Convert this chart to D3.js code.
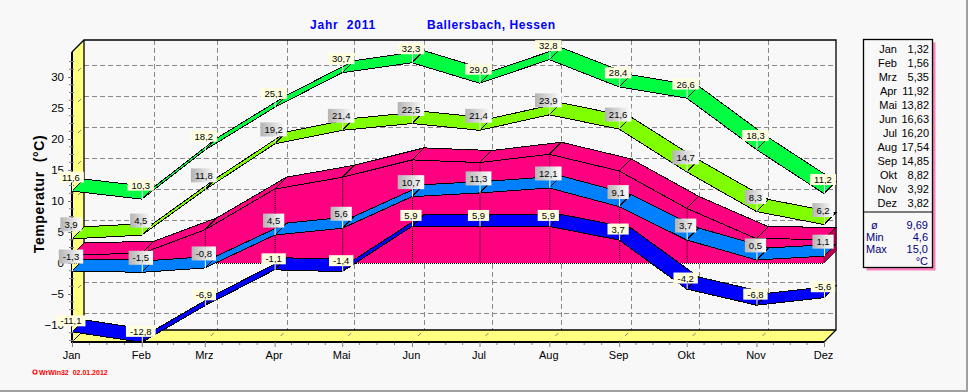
<!DOCTYPE html>
<html>
<head>
<meta charset="utf-8">
<script src="https://cdnjs.cloudflare.com/ajax/libs/d3/7.8.5/d3.min.js"></script>
<style>
  html, body { margin: 0; padding: 0; background: #f8f8f8; overflow: hidden; }
  svg { display: block; font-family: "Liberation Sans", Arial, sans-serif; }
  text { white-space: pre; }
</style>
</head>
<body>
<svg id="chart" width="968" height="392"></svg>
<script>
const months = ["Jan", "Feb", "Mrz", "Apr", "Mai", "Jun", "Jul", "Aug", "Sep", "Okt", "Nov", "Dez"];
const absMax = [11.6, 10.3, 18.2, 25.1, 30.7, 32.3, 29.0, 32.8, 28.4, 26.6, 18.3, 11.2];
const meanMax = [3.9, 4.5, 11.8, 19.2, 21.4, 22.5, 21.4, 23.9, 21.6, 14.7, 8.3, 6.2];
const meanTemp = [1.32, 1.56, 5.35, 11.92, 13.82, 16.63, 16.20, 17.54, 14.85, 8.82, 3.92, 3.82];
const meanMin = [-1.3, -1.5, -0.8, 4.5, 5.6, 10.7, 11.3, 12.1, 9.1, 3.7, 0.5, 1.1];
const absMin = [-11.1, -12.8, -6.9, -1.1, -1.4, 5.9, 5.9, 5.9, 3.7, -4.2, -6.8, -5.6];
const yTicks = [-10, -5, 0, 5, 10, 15, 20, 25, 30];
const summaryLabels = ["ø", "Min", "Max"];
const summaryValues = [9.69, 4.6, 15.0];

const svg = d3.select("#chart");
const depth = 12;
const dates = months.map((m, i) => new Date(Date.UTC(2011, i, 1)));

const x = d3.scaleUtc().domain([dates[0], dates[11]]).range([72, 824]);
const y = d3.scaleLinear().domain([-10, 30]).range([325, 77]);

const left = x.range()[0], right = x.range()[1];
const floorY = 342, topY = 52;
const comma = (v, n) => v.toFixed(n).replace(".", ",");

// gradient for the grey labels
const grad = svg.append("defs").append("linearGradient").attr("id", "greyLabel");
grad.append("stop").attr("offset", "0%").attr("stop-color", "#b4b4b4");
grad.append("stop").attr("offset", "100%").attr("stop-color", "#ffffff");

// side wall and floor
const wall = svg.append("g").attr("shape-rendering", "crispEdges");
wall.append("polygon")
  .attr("points", [[left, topY], [left + depth, topY - depth], [left + depth, floorY - depth], [left, floorY]].join(" "))
  .attr("fill", "#ffff80");
wall.append("polygon")
  .attr("points", [[left, floorY], [left + depth, floorY - depth], [right + depth, floorY - depth], [right, floorY]].join(" "))
  .attr("fill", "#ffff80");

// grid on the back wall
const grid = svg.append("g").attr("stroke", "#888").attr("stroke-dasharray", "5,3").attr("shape-rendering", "crispEdges");
grid.selectAll(".h").data(yTicks).join("line").attr("class", "h")
  .attr("x1", left + depth).attr("x2", right + depth)
  .attr("y1", d => y(d) - depth + 0.5).attr("y2", d => y(d) - depth + 0.5);
grid.selectAll(".v").data(dates.slice(1, 11)).join("line").attr("class", "v")
  .attr("x1", d => x(d) + depth + 0.5).attr("x2", d => x(d) + depth + 0.5)
  .attr("y1", topY - depth).attr("y2", floorY - depth);

// frame
const frame = svg.append("g").attr("fill", "none").attr("stroke", "#000");
frame.append("polyline")
  .attr("points", [[left, topY], [left + depth, topY - depth], [right + depth, topY - depth], [right + depth, floorY - depth], [right, floorY]].join(" "))
  .attr("stroke-width", 1.3);
frame.append("polyline")
  .attr("points", [[left + depth, topY - depth], [left + depth, floorY - depth], [right + depth, floorY - depth]].join(" "))
  .attr("stroke-width", 1.3);
frame.append("line")
  .attr("x1", left).attr("y1", floorY).attr("x2", left + depth).attr("y2", floorY - depth);

// small dashes on wall and floor
const dashes = svg.append("g").attr("stroke", "#808080");
dashes.selectAll(".w").data(yTicks).join("line").attr("class", "w")
  .attr("x1", left + 6).attr("y1", d => y(d) - 6).attr("x2", left + 9).attr("y2", d => y(d) - 9);
dashes.selectAll(".f").data(dates.slice(1, 11)).join("line").attr("class", "f")
  .attr("x1", d => x(d) + 6).attr("y1", floorY - 6).attr("x2", d => x(d) + 9).attr("y2", floorY - 9);

function ribbon(g, values, color) {
  const pts = values.map((v, i) => [x(dates[i]), y(v)]);
  g.selectAll("polygon").data(d3.pairs(pts)).join("polygon")
    .attr("points", ([a, b]) => [a, b, [b[0] + depth, b[1] - depth], [a[0] + depth, a[1] - depth]].join(" "))
    .attr("fill", color)
    .attr("stroke", "#000")
    .attr("stroke-width", 1)
    .attr("shape-rendering", "crispEdges");
}

// back to front
ribbon(svg.append("g"), absMax, "#00ff40");
ribbon(svg.append("g"), meanMax, "#80ff00");

// mean temperature as a solid block from zero
const pink = svg.append("g");
pink.append("path")
  .datum(meanTemp)
  .attr("d", d3.area().x((d, i) => x(dates[i])).y0(y(0)).y1(d => y(d)))
  .attr("fill", "#ff0080");
ribbon(pink.append("g"), meanTemp, "#ff0080");
pink.append("polygon")
  .attr("points", [[right, y(0)], [right, y(meanTemp[11])], [right + depth, y(meanTemp[11]) - depth], [right + depth, y(0) - depth]].join(" "))
  .attr("fill", "#c00050").attr("stroke", "#000").attr("stroke-width", 0.6);
pink.selectAll(".drop").data(meanTemp.slice(1, 11)).join("line").attr("class", "drop")
  .attr("x1", (d, i) => x(dates[i + 1]) + 0.5).attr("x2", (d, i) => x(dates[i + 1]) + 0.5)
  .attr("y1", d => y(d)).attr("y2", y(0))
  .attr("stroke", "#000").attr("stroke-dasharray", "1,1");
pink.append("line")
  .attr("x1", left).attr("x2", right).attr("y1", y(0) + 0.5).attr("y2", y(0) + 0.5)
  .attr("stroke", "#000").attr("stroke-dasharray", "1,1");

ribbon(svg.append("g"), meanMin, "#0080ff");
ribbon(svg.append("g"), absMin, "#0000ff");

// thick front axis lines
svg.append("line").attr("x1", left).attr("x2", left).attr("y1", topY).attr("y2", floorY + 1)
  .attr("stroke", "#000").attr("stroke-width", 2);
svg.append("line").attr("x1", left).attr("x2", right).attr("y1", floorY).attr("y2", floorY)
  .attr("stroke", "#000").attr("stroke-width", 2);

// axes
const yAxis = svg.append("g").attr("transform", `translate(${left},0)`)
  .call(d3.axisLeft(y).tickValues(yTicks).tickSize(4).tickPadding(4));
yAxis.select(".domain").remove();
yAxis.selectAll("line").attr("stroke", "#808080");
yAxis.selectAll("text").attr("font-size", 11.5).attr("font-family", "Liberation Sans").attr("fill", "#000");

const xAxis = svg.append("g").attr("transform", `translate(0,${floorY})`)
  .call(d3.axisBottom(x).tickValues(dates).tickFormat((d, i) => months[i]).tickSize(5).tickPadding(4));
xAxis.select(".domain").remove();
xAxis.selectAll("line").attr("stroke", "#808080");
xAxis.selectAll("text").attr("font-size", 11).attr("font-family", "Liberation Sans").attr("fill", "#000").attr("dx", -1);

// minor ticks
const minorX = d3.pairs(dates).flatMap(([a, b]) => [1, 2, 3].map(k => new Date(+a + (b - a) * k / 4)));
svg.append("g").selectAll("line").data(minorX).join("line")
  .attr("x1", d => x(d)).attr("x2", d => x(d))
  .attr("y1", floorY + 1).attr("y2", floorY + 3)
  .attr("stroke", "#808080");
const minorY = d3.range(-12.5, 33.75, 1.25).filter(v => !yTicks.includes(v));
svg.append("g").selectAll("line").data(minorY).join("line")
  .attr("x1", left - 3).attr("x2", left + 2)
  .attr("y1", d => y(d)).attr("y2", d => y(d))
  .attr("stroke", "#808080");

// value flags
function flags(values, fill, boxH, gap) {
  const g = svg.append("g");
  values.forEach((v, i) => {
    const px = x(dates[i]), py = y(v);
    const f = g.append("g");
    const t = f.append("text")
      .attr("x", px - 1).attr("y", py - gap - boxH / 2 + 3.5)
      .attr("text-anchor", "middle")
      .attr("font-family", "Liberation Sans Narrow, Liberation Sans")
      .attr("font-size", 9.5)
      .attr("fill", "#000")
      .text(comma(v, 1));
    const w = t.node().getComputedTextLength() + 8;
    f.insert("rect", "text")
      .attr("x", px - 1 - w / 2).attr("y", py - gap - boxH)
      .attr("width", w).attr("height", boxH)
      .attr("fill", fill);
    f.insert("line", "text")
      .attr("x1", px + 0.5).attr("x2", px + 0.5)
      .attr("y1", py - gap).attr("y2", py)
      .attr("stroke", "#fff");
  });
}
flags(absMax, "#ffffe0", 11, 8.5);
flags(meanMax, "url(#greyLabel)", 14, 7.5);
flags(meanMin, "url(#greyLabel)", 14, 7.5);
flags(absMin, "#ffffe0", 11, 5.5);

// titles
svg.append("text").attr("x", 310).attr("y", 29).attr("fill", "#0000ff")
  .attr("font-size", 12).attr("font-weight", "bold").attr("letter-spacing", 0.8)
  .text("Jahr  2011");
svg.append("text").attr("x", 427).attr("y", 29).attr("fill", "#0000ff")
  .attr("font-size", 12).attr("font-weight", "bold").attr("letter-spacing", 0.6)
  .text("Ballersbach, Hessen");
svg.append("text").attr("transform", "translate(44,194) rotate(-90)")
  .attr("text-anchor", "middle").attr("font-size", 14).attr("font-weight", "bold").attr("letter-spacing", 0.6)
  .text("Temperatur  (°C)");

// stats box
const box = { x: 863.5, y: 39.5, w: 69, h: 228, split: 212 };
svg.append("rect").attr("x", box.x + 3).attr("y", box.y + 3).attr("width", box.w).attr("height", box.h)
  .attr("fill", "#ff80c0");
svg.append("rect").attr("x", box.x).attr("y", box.y).attr("width", box.w).attr("height", box.h)
  .attr("fill", "#f8f8f8").attr("stroke", "#000").attr("stroke-width", 1.3);
svg.append("line").attr("x1", box.x).attr("x2", box.x + box.w).attr("y1", box.split).attr("y2", box.split)
  .attr("stroke", "#000");

const rows = svg.append("g").attr("font-size", 11);
rows.selectAll(".m").data(months).join("text").attr("class", "m")
  .attr("x", 897).attr("y", (d, i) => 52.5 + i * 14).attr("text-anchor", "end").text(d => d);
rows.selectAll(".v").data(meanTemp).join("text").attr("class", "v")
  .attr("x", 929).attr("y", (d, i) => 52.5 + i * 14).attr("text-anchor", "end").text(d => comma(d, 2));

const sum = svg.append("g").attr("font-size", 11).attr("fill", "#000080");
sum.selectAll(".l").data(summaryLabels).join("text").attr("class", "l")
  .attr("x", (d, i) => i ? 866 : 871).attr("y", (d, i) => 228.5 + i * 12).text(d => d);
sum.selectAll(".s").data(summaryValues).join("text").attr("class", "s")
  .attr("x", 928).attr("y", (d, i) => 228.5 + i * 12).attr("text-anchor", "end")
  .text((d, i) => comma(d, i ? 1 : 2));
sum.append("text").attr("x", 928).attr("y", 264.5).attr("text-anchor", "end").text("°C");

// footer
svg.append("circle").attr("cx", 35).attr("cy", 372).attr("r", 2).attr("fill", "none").attr("stroke", "#ff0000").attr("stroke-width", 1.2);
svg.append("text").attr("x", 39).attr("y", 374.5).attr("fill", "#ff0000")
  .attr("font-size", 7).attr("font-weight", "bold")
  .text("WrWin32  02.01.2012");

// window edge
svg.append("rect").attr("x", 966).attr("y", 0).attr("width", 2).attr("height", 392).attr("fill", "#a0a0a0");
svg.append("rect").attr("x", 0).attr("y", 390).attr("width", 968).attr("height", 2).attr("fill", "#a0a0a0");
</script>
</body>
</html>
